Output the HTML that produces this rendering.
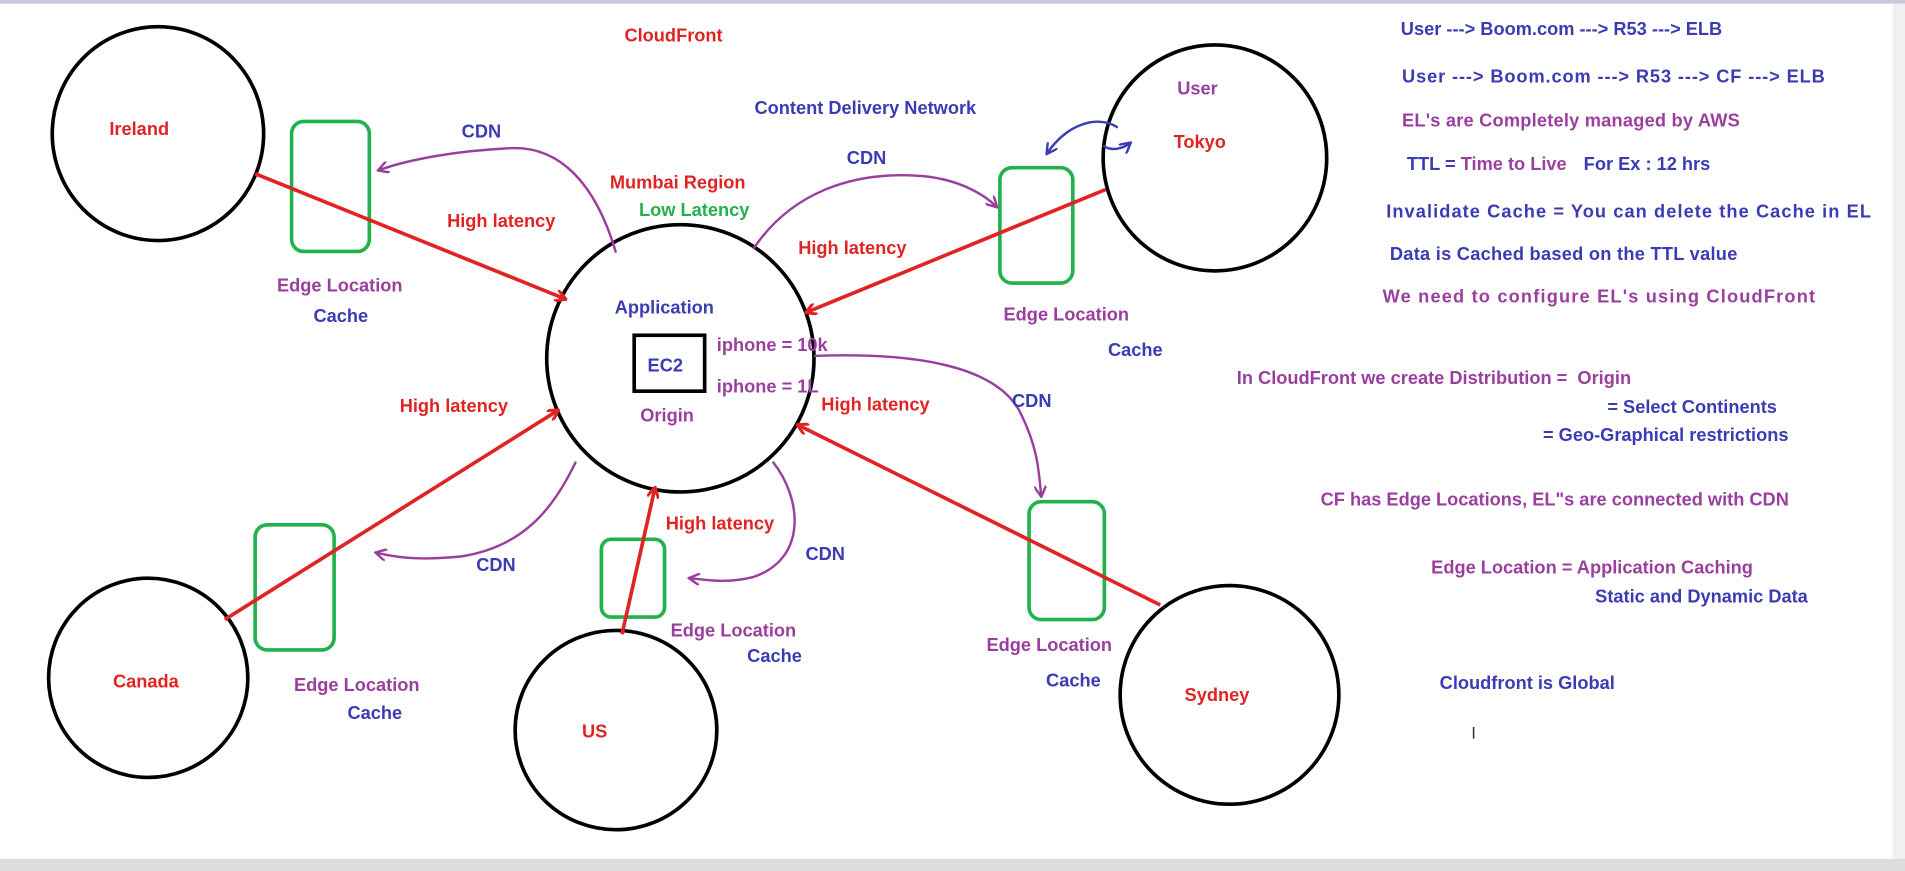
<!DOCTYPE html>
<html><head><meta charset="utf-8"><style>
html,body{margin:0;padding:0;background:#fff;overflow:hidden}
svg{display:block}
text{font-family:"Liberation Sans",sans-serif;font-weight:bold;font-size:15px}
.r{fill:#e02424}.b{fill:#3b3bb3}.p{fill:#9a3f9e}.g{fill:#22b14c}
</style></head><body>
<svg width="1905" height="871" viewBox="0 0 1568 717" preserveAspectRatio="none" xmlns="http://www.w3.org/2000/svg">
<defs>
<marker id="ar" markerWidth="10" markerHeight="10" refX="8" refY="5" orient="auto" markerUnits="userSpaceOnUse"><path d="M0,0 L9,5 L0,10" fill="none" stroke="#e02424" stroke-width="2.5"/></marker>
<marker id="ap" markerWidth="10" markerHeight="10" refX="8" refY="5" orient="auto" markerUnits="userSpaceOnUse"><path d="M0,0 L9,5 L0,10" fill="none" stroke="#9a3f9e" stroke-width="2"/></marker>
<marker id="ab" markerWidth="10" markerHeight="10" refX="8" refY="5" orient="auto" markerUnits="userSpaceOnUse"><path d="M0,0 L9,5 L0,10" fill="none" stroke="#3b3bb3" stroke-width="2"/></marker>
</defs>
<rect x="0" y="0" width="1568" height="3" fill="#c8c8d8"/>
<rect x="0" y="707" width="1568" height="10" fill="#dcdcdc"/>
<rect x="1558" y="3" width="10" height="704" fill="#f0f0f0"/>
<g fill="none" stroke="#000" stroke-width="3">
<ellipse cx="130" cy="110" rx="87" ry="88"/>
<ellipse cx="1000" cy="130" rx="92" ry="93"/>
<ellipse cx="560" cy="295" rx="110" ry="110"/>
<ellipse cx="122" cy="558" rx="82" ry="82"/>
<ellipse cx="507" cy="601" rx="83" ry="82"/>
<ellipse cx="1012" cy="572" rx="90" ry="90"/>
<rect x="522" y="276" width="58" height="46"/>
</g>
<g fill="none" stroke="#22b14c" stroke-width="3">
<rect x="240" y="100" width="64" height="107" rx="10"/>
<rect x="823" y="138" width="60" height="95" rx="10"/>
<rect x="210" y="432" width="65" height="103" rx="10"/>
<rect x="495" y="444" width="52" height="64" rx="8"/>
<rect x="847" y="413" width="62" height="97" rx="10"/>
</g>
<g stroke="#e02424" stroke-width="3" fill="none" marker-end="url(#ar)">
<line x1="210" y1="143" x2="465" y2="246"/>
<line x1="910" y1="156" x2="664" y2="257"/>
<line x1="185" y1="510" x2="459" y2="338"/>
<line x1="512" y1="522" x2="539" y2="402"/>
<line x1="955" y1="498" x2="657" y2="350"/>
</g>
<g stroke="#9a3f9e" stroke-width="2" fill="none" marker-end="url(#ap)">
<path d="M507,208 C490,150 460,120 420,122 C380,124 340,130 312,140"/>
<path d="M620,205 C650,160 700,140 760,145 C790,148 810,160 820,170"/>
<path d="M670,293 C750,290 820,300 840,340 C855,370 855,390 857,408"/>
<path d="M636,380 C660,410 665,460 620,475 C600,480 585,478 568,476"/>
<path d="M474,380 C455,420 430,450 380,458 C350,461 330,460 310,455"/>
</g>
<path d="M920,105 C905,95 880,100 862,126" stroke="#3b3bb3" stroke-width="2" fill="none" marker-end="url(#ab)"/>
<path d="M908,120 C915,125 925,122 930,118" stroke="#3b3bb3" stroke-width="2" fill="none" marker-end="url(#ab)"/>
<text x="514" y="34" class="r">CloudFront</text>
<text x="90" y="111" class="r">Ireland</text>
<text x="966" y="122" class="r">Tokyo</text>
<text x="969" y="78" class="p">User</text>
<text x="93" y="566" class="r">Canada</text>
<text x="479" y="607" class="r">US</text>
<text x="975" y="577" class="r">Sydney</text>
<text x="621" y="94" class="b">Content Delivery Network</text>
<text x="380" y="113" class="b">CDN</text>
<text x="697" y="135" class="b">CDN</text>
<text x="833" y="335" class="b">CDN</text>
<text x="663" y="461" class="b">CDN</text>
<text x="392" y="470" class="b">CDN</text>
<text x="502" y="155" class="r">Mumbai Region</text>
<text x="526" y="178" class="g">Low Latency</text>
<text x="368" y="187" class="r">High latency</text>
<text x="657" y="209" class="r">High latency</text>
<text x="329" y="339" class="r">High latency</text>
<text x="676" y="338" class="r">High latency</text>
<text x="548" y="436" class="r">High latency</text>
<text x="506" y="258" class="b">Application</text>
<text x="533" y="306" class="b">EC2</text>
<text x="590" y="289" class="p">iphone = 10k</text>
<text x="590" y="323" class="p">iphone = 1L</text>
<text x="527" y="347" class="p">Origin</text>
<text x="228" y="240" class="p">Edge Location</text>
<text x="258" y="265" class="b">Cache</text>
<text x="826" y="264" class="p">Edge Location</text>
<text x="912" y="293" class="b">Cache</text>
<text x="242" y="569" class="p">Edge Location</text>
<text x="286" y="592" class="b">Cache</text>
<text x="552" y="524" class="p">Edge Location</text>
<text x="615" y="545" class="b">Cache</text>
<text x="812" y="536" class="p">Edge Location</text>
<text x="861" y="565" class="b">Cache</text>
<text x="1153" y="29" class="b">User ---&gt; Boom.com ---&gt; R53 ---&gt; ELB</text>
<text x="1154" y="68" class="b" textLength="348">User ---&gt; Boom.com ---&gt; R53 ---&gt; CF ---&gt; ELB</text>
<text x="1154" y="104" class="p" textLength="278">EL's are Completely managed by AWS</text>
<text x="1158" y="140"><tspan class="b">TTL = </tspan><tspan class="p">Time to Live</tspan><tspan class="b" dx="14">For Ex : 12 hrs</tspan></text>
<text x="1141" y="179" class="b" textLength="399">Invalidate Cache = You can delete the Cache in EL</text>
<text x="1144" y="214" class="b" textLength="286">Data is Cached based on the TTL value</text>
<text x="1138" y="249" class="p" textLength="356">We need to configure EL's using CloudFront</text>
<text x="1018" y="316" class="p">In CloudFront we create Distribution =&#160;&#160;Origin</text>
<text x="1323" y="340" class="b">= Select Continents</text>
<text x="1270" y="363" class="b">= Geo-Graphical restrictions</text>
<text x="1087" y="416" class="p">CF has Edge Locations, EL"s are connected with CDN</text>
<text x="1178" y="472" class="p">Edge Location = Application Caching</text>
<text x="1313" y="496" class="b">Static and Dynamic Data</text>
<text x="1185" y="567" class="b">Cloudfront is Global</text>
<text x="1211" y="608" style="font-weight:normal;font-size:14px" fill="#333">I</text>
</svg>
</body></html>
